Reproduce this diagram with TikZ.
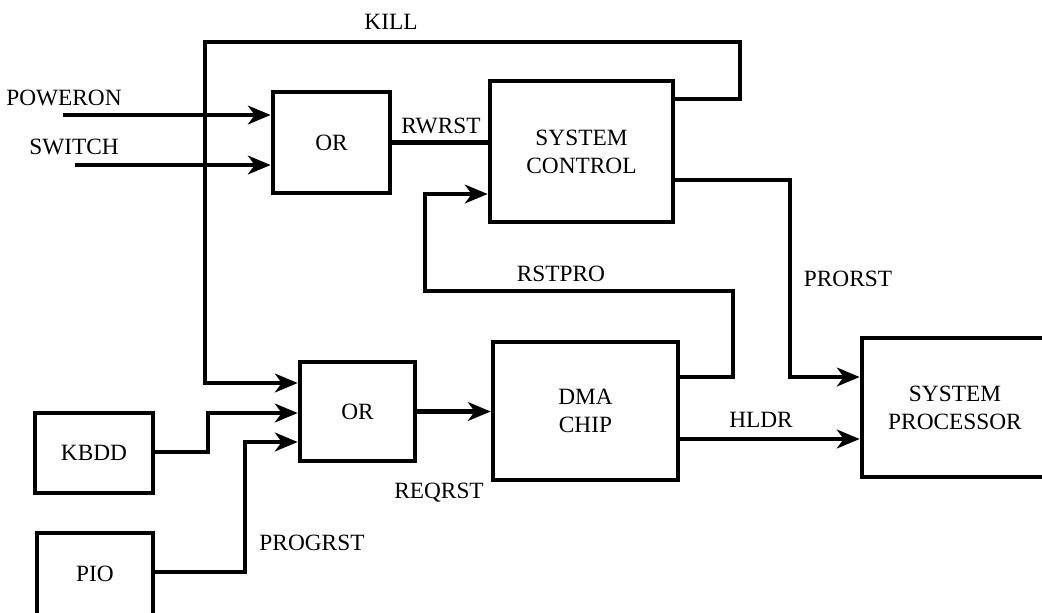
\documentclass[tikz,border=0pt]{standalone}
\usepackage{fontspec}
\setmainfont{Liberation Serif}
\usetikzlibrary{arrows.meta}
\begin{document}
\begin{tikzpicture}[x=0.75pt,y=-0.75pt,
  box/.style={draw,line width=3.5pt,inner sep=0pt,align=center,
    font=\fontsize{17.5}{21}\selectfont},
  conn/.style={line width=3.3pt,-{Stealth[length=17pt,width=14pt,inset=5pt]}},
  wire/.style={line width=3.3pt},
  lbl/.style={font=\fontsize{17.5}{21}\selectfont,inner sep=0pt}]
\useasboundingbox (0,0) rectangle (1042,612);
\clip (0,0) rectangle (1042,612);
% boxes
\node[box,minimum width=117*0.75pt,minimum height=101*0.75pt] (OR1) at (331.5,142.5) {OR};
\node[box,minimum width=183*0.75pt,minimum height=141*0.75pt] (SC) at (581.5,151.5) {SYSTEM\\CONTROL};
\node[box,minimum width=115*0.75pt,minimum height=99*0.75pt] (OR2) at (357.5,411.5) {OR};
\node[box,minimum width=185*0.75pt,minimum height=138*0.75pt] (DMA) at (585.5,411) {DMA\\CHIP};
\node[box,minimum width=118*0.75pt,minimum height=80*0.75pt] (KBDD) at (94,453) {KBDD};
\node[box,minimum width=116*0.75pt,minimum height=82*0.75pt] (PIO) at (95,574) {PIO};
\node[box,minimum width=186*0.75pt,minimum height=139*0.75pt] (SP) at (955,407.5) {SYSTEM\\PROCESSOR};
% free ends and bends
\coordinate (pw) at (63,115);
\coordinate (sw) at (75,165);
\coordinate (kr) at (740,99);
\coordinate (kl) at (205,42);
\coordinate (kd) at (205,383);
\coordinate (rp1) at (733,377);
\coordinate (rp2) at (425,291);
\coordinate (rp3) at (425,194);
\coordinate (pr1) at (790,180);
\coordinate (pr2) at (790,377);
\coordinate (hl) at (678,439);
\coordinate (kb1) at (208,452);
\coordinate (kb2) at (208,413);
\coordinate (pi1) at (245,572);
\coordinate (pi2) at (245,442);
% connectors
\draw[conn] (pw) -- (pw -| OR1.west);
\draw[conn] (sw) -- (sw -| OR1.west);
\draw[wire] (OR1.east) -- (OR1.east -| SC.west);
\draw[conn] (kr -| SC.east) -- (kr) |- (kl) -- (kd) -- (kd -| OR2.west);
\draw[conn] (rp1 -| DMA.east) -- (rp1) |- (rp2) -- (rp3) -- (rp3 -| SC.west);
\draw[conn] (pr1 -| SC.east) -- (pr1) -- (pr2) -- (pr2 -| SP.west);
\draw[conn] (hl -| DMA.east) -- (hl -| SP.west);
\draw[conn] (OR2.east) -- (OR2.east -| DMA.west);
\draw[conn] (kb1 -| KBDD.east) -- (kb1) -- (kb2) -- (kb2 -| OR2.west);
\draw[conn] (pi1 -| PIO.east) -- (pi1) -- (pi2) -- (pi2 -| OR2.west);
% labels
\node[lbl] (lpw) at (64,98) {POWERON};
\node[lbl] (lsw) at (74,147) {SWITCH};
\node[lbl] (lkill) at (391,22) {KILL};
\node[lbl] (lrw) at (441,126) {RWRST};
\node[lbl] (lrp) at (561,274) {RSTPRO};
\node[lbl] (lpr) at (848,279) {PRORST};
\node[lbl] (lhl) at (761,420) {HLDR};
\node[lbl] (lrq) at (439,493) {REQRST};
\node[lbl] (lpg) at (312,543) {PROGRST};
\end{tikzpicture}
\end{document}
